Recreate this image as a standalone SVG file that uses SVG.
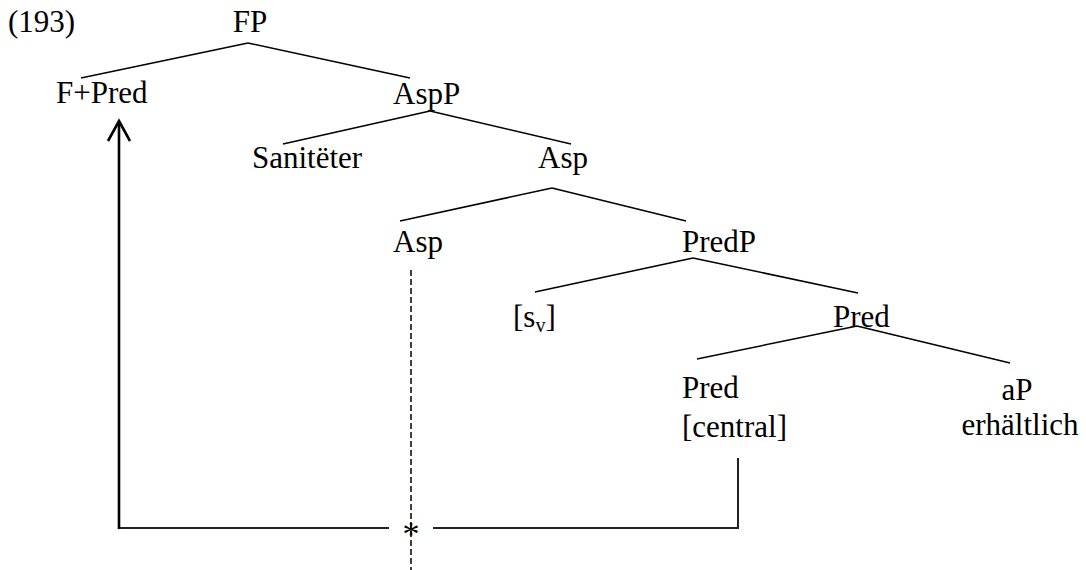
<svg xmlns="http://www.w3.org/2000/svg" width="1086" height="570" viewBox="0 0 1086 570">
<style>
.t{font-family:'Liberation Serif',serif;font-size:31px;fill:#000}
.e{stroke:#000;stroke-width:1.5;fill:none}
.c{stroke:#222;stroke-width:2;fill:none}
.a{stroke:#000;stroke-width:2.6;fill:none}
.d{stroke:#000;stroke-width:1.5;stroke-dasharray:6,3;fill:none}
</style>
<rect width="1086" height="570" fill="#fff"/>
<g font-family="Liberation Serif" font-size="31">
<text class="t" x="8" y="32">(193)</text>
<g id="connectors">
<line class="e" x1="248" y1="43" x2="81" y2="78"/>
<line class="e" x1="248" y1="43" x2="410" y2="78"/>
<line class="e" x1="430" y1="111" x2="283" y2="144"/>
<line class="e" x1="430" y1="111" x2="571" y2="144"/>
<line class="e" x1="552" y1="188" x2="400" y2="221"/>
<line class="e" x1="552" y1="188" x2="686" y2="221"/>
<line class="e" x1="693" y1="258" x2="535" y2="292"/>
<line class="e" x1="693" y1="258" x2="858" y2="293"/>
<line class="e" x1="857" y1="326" x2="697" y2="359"/>
<line class="e" x1="857" y1="326" x2="1010" y2="363"/>
<line class="d" x1="411" y1="270" x2="411" y2="570"/>
<polyline class="c" points="738,458 738,528 433,528"/>
<line class="c" x1="389" y1="528" x2="119" y2="528"/>
<line class="a" x1="119" y1="529" x2="119" y2="123"/>
<polyline class="a" points="108,141 119,121 130,141"/>
<text class="t" x="411" y="545" text-anchor="middle" style="font-size:34px">*</text>
</g>
<g id="n-FP"><text class="t" x="250" y="32" text-anchor="middle">FP</text></g>
<g id="n-FPred"><text class="t" x="56" y="103">F+Pred</text></g>
<g id="n-AspP"><text class="t" x="393" y="104">AspP</text></g>
<g id="n-Sanit"><text class="t" x="252" y="168">Sanitëter</text></g>
<g id="n-Asp1"><text class="t" x="538" y="168">Asp</text></g>
<g id="n-Asp2"><text class="t" x="393" y="252">Asp</text></g>
<g id="n-PredP"><text class="t" x="682" y="252">PredP</text></g>
<g id="n-sv"><text class="t" x="513" y="327">[s<tspan style="font-size:20px" dy="5">v</tspan><tspan dy="-5">]</tspan></text></g>
<g id="n-Pred1"><text class="t" x="833" y="327">Pred</text></g>
<g id="n-Pred2"><text class="t" x="682" y="398">Pred</text><text class="t" x="682" y="437">[central]</text></g>
<g id="n-aP"><text class="t" x="1017" y="400" text-anchor="middle">aP</text><text class="t" x="1020" y="435" text-anchor="middle">erhältlich</text></g>
</g>
</svg>
